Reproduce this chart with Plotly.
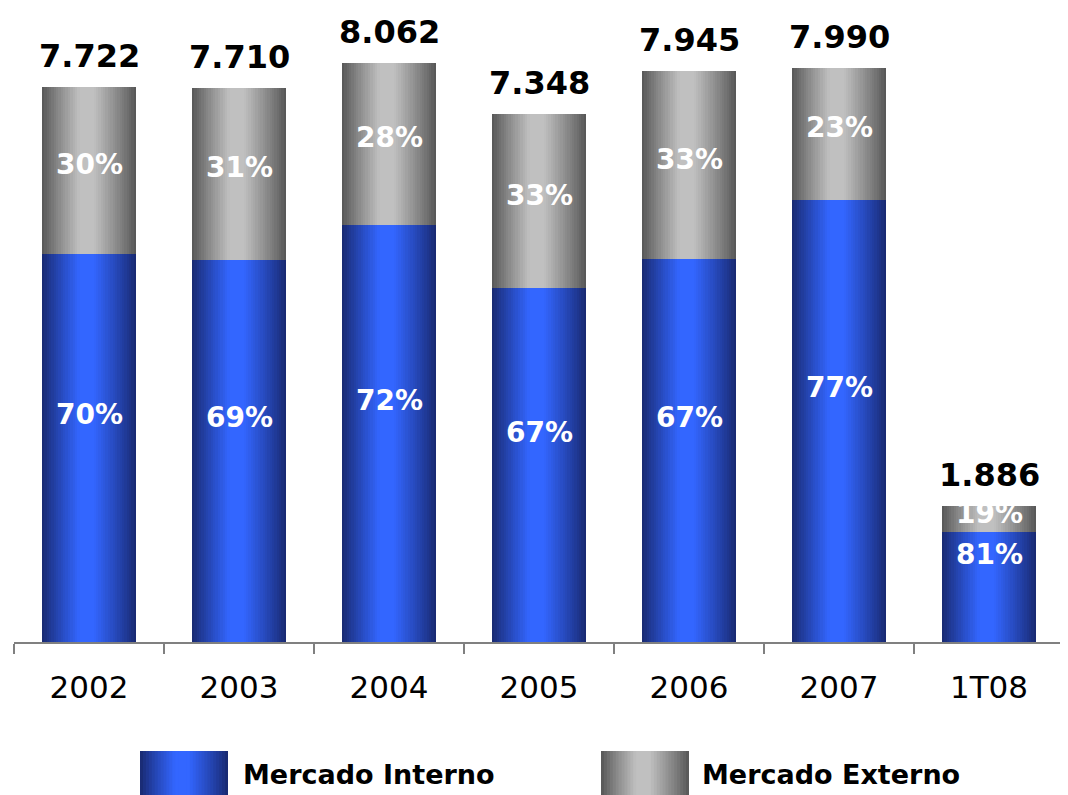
import plotly.graph_objects as go

categories = ["2002", "2003", "2004", "2005", "2006", "2007", "1T08"]
totals = [7722, 7710, 8062, 7348, 7945, 7990, 1886]
pct_interno = [70, 69, 72, 67, 67, 77, 81]
pct_externo = [30, 31, 28, 33, 33, 23, 19]
total_labels = ["7.722", "7.710", "8.062", "7.348", "7.945", "7.990", "1.886"]
series_names = ["Mercado Interno", "Mercado Externo"]

interno = [t * p / 100 for t, p in zip(totals, pct_interno)]
externo = [t - i for t, i in zip(totals, interno)]

BLUE_DARK = (24, 40, 110)
BLUE_LIGHT = (51, 102, 255)
GREY_DARK = (85, 85, 85)
GREY_LIGHT = (192, 192, 192)

# page offset (default body margin of the html page)
OX, OY = 8, 8
W, H = 1068, 795
ML, MR, MT = 14 - OX, W - 1064 + OX, 10 - OY
AXIS_Y = 642 - OY
MB = H - AXIS_Y
PW = W - ML - MR
PH = H - MT - MB


def grad(dark, light, f):
    # dark at edges, light plateau around 0.40-0.55
    if f < 0.40:
        t = f / 0.40
    elif f < 0.55:
        t = 1.0
    else:
        t = 1.0 - (f - 0.55) / 0.45
    t = max(0.0, min(1.0, t)) ** 0.9
    c = [round(d + (l - d) * t) for d, l in zip(dark, light)]
    return "rgb(%d,%d,%d)" % tuple(c)


BAR_W = 0.627
N = 40
strip = BAR_W / N

fig = go.Figure()
for seg, (vals, bases, dark, light) in enumerate([
    (interno, [0] * len(categories), BLUE_DARK, BLUE_LIGHT),
    (externo, interno, GREY_DARK, GREY_LIGHT),
]):
    for i in range(N):
        f = (i + 0.5) / N
        fig.add_trace(go.Bar(
            x=categories, y=vals, base=bases,
            offset=-BAR_W / 2 + i * strip, width=strip * 1.6 if i < N - 1 else strip,
            marker=dict(color=grad(dark, light, f), line=dict(width=0)),
            showlegend=False, hoverinfo="skip",
        ))

annotations = []
for k, (t, lab, vi, ve, pi, pe) in enumerate(zip(totals, total_labels, interno, externo, pct_interno, pct_externo)):
    annotations.append(dict(x=k, y=t, text="<b>%s</b>" % lab, showarrow=False,
                            yanchor="bottom", yshift=10,
                            font=dict(family="DejaVu Sans", size=32, color="black")))
    annotations.append(dict(x=k, y=vi / 2, text="<b>%d%%</b>" % pi, showarrow=False,
                            yshift=33, font=dict(family="DejaVu Sans", size=28, color="white")))
    annotations.append(dict(x=k, y=vi + ve / 2, text="<b>%d%%</b>" % pe, showarrow=False,
                            yshift=6, font=dict(family="DejaVu Sans", size=28, color="white")))


def px(xp):
    return (xp - OX - ML) / PW


def py(yp):
    return (AXIS_Y - (yp - OY)) / PH


# legend (custom, large swatches)
shapes = []
for (x0, dark, light) in [(140, BLUE_DARK, BLUE_LIGHT), (601, GREY_DARK, GREY_LIGHT)]:
    w = 88
    n = 30
    for i in range(n):
        f = (i + 0.5) / n
        xa = x0 + i * w / n
        xb = x0 + (i + 1.3) * w / n if i < n - 1 else x0 + w
        shapes.append(dict(type="rect", xref="paper", yref="paper",
                           x0=px(xa), x1=px(xb), y0=py(800), y1=py(751),
                           line=dict(width=0), fillcolor=grad(dark, light, f), layer="above"))
for (x0, name) in [(241, series_names[0]), (700, series_names[1])]:
    annotations.append(dict(xref="paper", yref="paper", x=px(x0), y=py(774),
                            xanchor="left", yanchor="middle", text="<b>%s</b>" % name, showarrow=False,
                            font=dict(family="DejaVu Sans", size=27, color="black")))

fig.update_layout(
    barmode="overlay",
    bargap=0,
    width=W, height=H,
    margin=dict(l=ML, r=MR, t=MT, b=MB),
    paper_bgcolor="white", plot_bgcolor="white",
    annotations=annotations,
    shapes=shapes,
    xaxis=dict(type="category", categoryorder="array", categoryarray=categories,
               range=[-0.5, len(categories) - 0.5],
               showline=True, linecolor="#808080", linewidth=1.5,
               ticks="outside", tickson="boundaries", ticklen=10, tickcolor="#808080", tickwidth=1.5,
               tickfont=dict(family="DejaVu Sans", size=31, color="black"), tickangle=0,
               ticklabelstandoff=17, showgrid=False, zeroline=False),
    yaxis=dict(range=[0, PH / 0.07187], visible=False, showgrid=False, zeroline=False),
)

fig.write_html("out.html")
